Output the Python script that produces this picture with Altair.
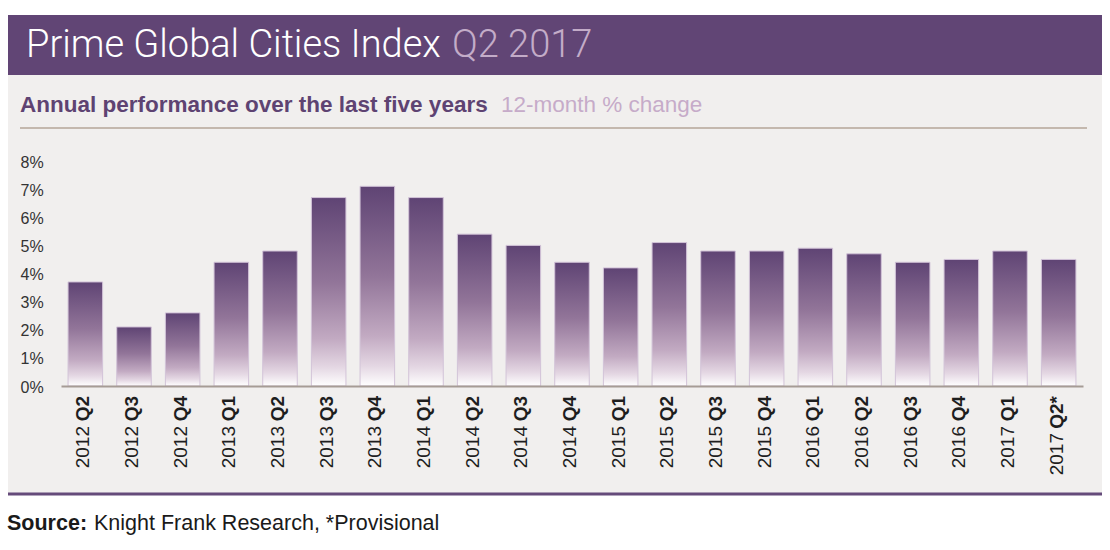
import altair as alt
import pandas as pd

quarters = ["2012 Q2", "2012 Q3", "2012 Q4", "2013 Q1", "2013 Q2", "2013 Q3", "2013 Q4",
            "2014 Q1", "2014 Q2", "2014 Q3", "2014 Q4", "2015 Q1", "2015 Q2", "2015 Q3",
            "2015 Q4", "2016 Q1", "2016 Q2", "2016 Q3", "2016 Q4", "2017 Q1", "2017 Q2*"]
change_pct = [3.7, 2.1, 2.6, 4.4, 4.8, 6.7, 7.1, 6.7, 5.4, 5.0, 4.4, 4.2, 5.1, 4.8,
              4.8, 4.9, 4.7, 4.4, 4.5, 4.8, 4.5]
y_ticks = [0, 1, 2, 3, 4, 5, 6, 7, 8]

title_main = "Prime Global Cities Index"
title_period = "Q2 2017"
subtitle_main = "Annual performance over the last five years"
subtitle_unit = "12-month % change"
source_bold = "Source:"
source_rest = "Knight Frank Research, *Provisional"

df = pd.DataFrame({"quarter": quarters, "value": change_pct})

PURPLE = "#614575"
LIGHT_PURPLE = "#c3acc8"
PANEL = "#f1efee"
FONT = "Liberation Sans"

one = alt.Data(values=[{}])

W, H = 1022, 225
OX, OY = 61, 161  # plot origin on page


def rx(X):
    return X - OX


def ry(Y):
    return Y - OY


panel = alt.Chart(one).mark_rect(color=PANEL).encode(
    x=alt.value(rx(8)), x2=alt.value(rx(1102)), y=alt.value(ry(75)), y2=alt.value(ry(494)))
header = alt.Chart(one).mark_rect(color=PURPLE).encode(
    x=alt.value(rx(8)), x2=alt.value(rx(1102)), y=alt.value(ry(15)), y2=alt.value(ry(75)))
sep = alt.Chart(one).mark_rule(color="#c4b8ae", strokeWidth=2).encode(
    x=alt.value(rx(20)), x2=alt.value(rx(1087)), y=alt.value(ry(128)))
bottom_line = alt.Chart(one).mark_rule(color="#654b7a", strokeWidth=3).encode(
    x=alt.value(rx(8)), x2=alt.value(rx(1102)), y=alt.value(ry(494)))

t1 = alt.Chart(one).mark_text(text=title_main, align="left", baseline="middle", font="Roboto",
                              fontWeight=300, fontSize=38, color="white").encode(
    x=alt.value(rx(26)), y=alt.value(ry(46)))
t2 = alt.Chart(one).mark_text(text=title_period, align="left", baseline="middle", font="Roboto",
                              fontWeight=300, fontSize=38, color=LIGHT_PURPLE).encode(
    x=alt.value(rx(452)), y=alt.value(ry(46)))
s1 = alt.Chart(one).mark_text(text=subtitle_main, align="left", baseline="middle", font=FONT,
                              fontWeight="bold", fontSize=22.5, color="#5e4372").encode(
    x=alt.value(rx(20)), y=alt.value(ry(105)))
s2 = alt.Chart(one).mark_text(text=subtitle_unit, align="left", baseline="middle", font=FONT,
                              fontSize=22.5, color="#c6abc9").encode(
    x=alt.value(rx(501)), y=alt.value(ry(105)))
src1 = alt.Chart(one).mark_text(text=source_bold, align="left", baseline="middle", font=FONT,
                                fontWeight="bold", fontSize=21.5, color="#1a1a1a").encode(
    x=alt.value(rx(7)), y=alt.value(ry(524)))
src2 = alt.Chart(one).mark_text(text=source_rest, align="left", baseline="middle", font=FONT,
                                fontSize=21.5, color="#1a1a1a").encode(
    x=alt.value(rx(94)), y=alt.value(ry(524)))

grad = alt.Gradient(
    gradient="linear", x1=0, x2=0, y1=0, y2=1,
    stops=[alt.GradientStop(offset=0, color="#5f4474"),
           alt.GradientStop(offset=0.45, color="#927599"),
           alt.GradientStop(offset=0.75, color="#c2aac2"),
           alt.GradientStop(offset=0.9, color="#e4d7e3"),
           alt.GradientStop(offset=1, color="#ffffff")])

xscale = alt.Scale(paddingInner=0.29, paddingOuter=0.145)

bars = alt.Chart(df).mark_bar(color=grad, stroke="#d2c3d8", strokeWidth=1).encode(
    x=alt.X("quarter:N", sort=quarters, scale=xscale,
            axis=alt.Axis(labels=False, ticks=False, title=None, domainColor="#a69c95",
                          domainWidth=2, zindex=1)),
    y=alt.Y("value:Q", scale=alt.Scale(domain=[0, 8], nice=False),
            axis=alt.Axis(values=y_ticks, labelExpr="datum.value + '%'", title=None,
                          grid=False, domain=False, ticks=False, labelAlign="left",
                          labelPadding=41, labelFontSize=16, labelFont=FONT,
                          labelColor="#333333", labelOffset=1, zindex=1)),
)

lab_base = alt.Chart(df).transform_calculate(
    yr="split(datum.quarter, ' ')[0]", q="split(datum.quarter, ' ')[1]")

q_lab = lab_base.mark_text(angle=270, align="right", baseline="middle", font=FONT,
                           fontWeight="bold", fontSize=19, color="#1e1e1e", dy=-2).encode(
    x=alt.X("quarter:N", sort=quarters, scale=xscale), text="q:N", y=alt.value(ry(396)))
y_lab = lab_base.mark_text(angle=270, align="right", baseline="middle", font=FONT,
                           fontSize=19, color="#1e1e1e", dy=-2,
                           dx=alt.expr("length(datum.q) > 2 ? -37 : -30")).encode(
    x=alt.X("quarter:N", sort=quarters, scale=xscale), text="yr:N", y=alt.value(ry(396)))

chart = alt.layer(panel, header, sep, bottom_line, t1, t2, s1, s2, src1, src2,
                  bars, q_lab, y_lab).properties(
    width=W, height=H,
    padding={"left": OX, "top": OY, "right": 1110 - OX - W, "bottom": 550 - OY - H},
    autosize="none",
).configure_view(strokeWidth=0)

chart.save("out.html", embed_options={"renderer": "svg", "actions": False})
